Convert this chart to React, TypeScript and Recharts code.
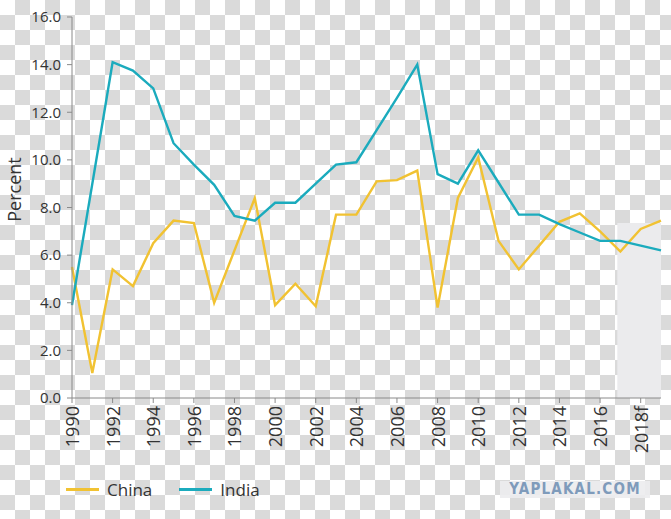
import { LineChart, Line, XAxis, YAxis, ReferenceArea } from "recharts";

const YEARS = [
  1990, 1991, 1992, 1993, 1994, 1995, 1996, 1997, 1998, 1999,
  2000, 2001, 2002, 2003, 2004, 2005, 2006, 2007, 2008, 2009,
  2010, 2011, 2012, 2013, 2014, 2015, 2016, 2017, 2018, 2019,
];

const CHINA = [
  5.5, 1.05, 5.4, 4.7, 6.5, 7.45, 7.35, 4.0, 6.2, 8.4,
  3.9, 4.8, 3.85, 7.7, 7.7, 9.1, 9.15, 9.55, 3.8, 8.4,
  10.1, 6.6, 5.4, 6.4, 7.4, 7.75, 7.0, 6.15, 7.1, 7.45,
];

const INDIA = [
  3.9, 9.0, 14.1, 13.75, 13.0, 10.7, 9.8, 8.95, 7.65, 7.45,
  8.2, 8.2, 9.0, 9.8, 9.9, 11.25, 12.6, 14.0, 9.4, 9.0,
  10.4, 9.05, 7.7, 7.7, 7.3, 6.95, 6.6, 6.6, 6.4, 6.2,
];

const X_TICKS = [
  1990, 1992, 1994, 1996, 1998, 2000, 2002, 2004, 2006, 2008,
  2010, 2012, 2014, 2016, 2018,
];
const FORECAST_TICK = 2018;
const Y_TICKS = [0, 2, 4, 6, 8, 10, 12, 14, 16];

// shaded forecast block
const SHADE_FROM = 2016.85;
const SHADE_TO = 2019;
const SHADE_TOP = 7.35;

const SERIES = [
  { key: "china", name: "China" },
  { key: "india", name: "India" },
];

const COLORS: Record<string, string> = {
  china: "#f1c232",
  india: "#1babbd",
};

const data = YEARS.map((year, i) => ({
  year,
  china: CHINA[i],
  india: INDIA[i],
}));

const FONT = "'Open Sans', 'Noto Sans', sans-serif";
const TEXT = "#333333";
const AXIS = "#8a8a8a";

function XTick({ x, y, payload }: any) {
  const label =
    payload.value === FORECAST_TICK ? `${payload.value}f` : String(payload.value);
  return (
    <text
      x={x}
      y={y}
      transform={`rotate(-90 ${x} ${y})`}
      textAnchor="end"
      dominantBaseline="central"
      fontFamily={FONT}
      fontSize={18}
      fill={TEXT}
    >
      {label}
    </text>
  );
}

function PercentLabel({ viewBox, value }: any) {
  const cx = viewBox.x + 14;
  const cy = viewBox.y + viewBox.height / 2 - 18;
  return (
    <text
      x={cx}
      y={cy}
      transform={`rotate(-90 ${cx} ${cy})`}
      textAnchor="middle"
      dominantBaseline="central"
      fontFamily={FONT}
      fontSize={18}
      fill={TEXT}
    >
      {value}
    </text>
  );
}

export default function App() {
  return (
    <div
      style={{
        position: "absolute",
        left: 0,
        top: 0,
        width: 671,
        height: 519,
        overflow: "hidden",
        background:
          "repeating-conic-gradient(#dadada 0% 25%, #ffffff 0% 50%) 0 0 / 30px 30px",
        fontFamily: FONT,
      }}
    >
      <LineChart
        width={671}
        height={519}
        data={data}
        margin={{ top: 17, right: 10, bottom: 71, left: 0 }}
      >
        <ReferenceArea
          x1={SHADE_FROM}
          x2={SHADE_TO}
          y1={0}
          y2={SHADE_TOP}
          fill="#ebebed"
          fillOpacity={1}
          stroke="none"
          ifOverflow="hidden"
        />
        <XAxis
          type="number"
          dataKey="year"
          domain={[1990, 2019]}
          ticks={X_TICKS}
          interval={0}
          height={50}
          tickSize={5}
          tickMargin={3}
          tick={<XTick />}
          axisLine={{ stroke: AXIS }}
          tickLine={{ stroke: AXIS }}
        />
        <YAxis
          type="number"
          domain={[0, 16]}
          ticks={Y_TICKS}
          interval={0}
          width={72}
          tickSize={5}
          tickMargin={6}
          tickFormatter={(v: number) => v.toFixed(1)}
          tick={{ fontSize: 15, fill: TEXT, fontFamily: FONT }}
          axisLine={{ stroke: AXIS }}
          tickLine={{ stroke: AXIS }}
          label={{ value: "Percent", content: PercentLabel }}
        />
        {SERIES.map((s) => (
          <Line
            key={s.key}
            type="linear"
            dataKey={s.key}
            name={s.name}
            stroke={COLORS[s.key]}
            strokeWidth={2.4}
            dot={false}
            activeDot={false}
            isAnimationActive={false}
          />
        ))}
      </LineChart>

      <div
        style={{
          position: "absolute",
          left: 66,
          top: 478,
          display: "flex",
          alignItems: "center",
          height: 22,
        }}
      >
        {SERIES.map((s) => (
          <span
            key={s.key}
            style={{
              display: "flex",
              alignItems: "center",
              marginRight: 27,
              fontSize: 17,
              color: TEXT,
            }}
          >
            <span
              style={{
                display: "inline-block",
                width: 33,
                height: 3,
                background: COLORS[s.key],
                marginRight: 8,
              }}
            />
            {s.name}
          </span>
        ))}
      </div>

      <div
        style={{
          position: "absolute",
          left: 500,
          top: 481,
          width: 150,
          height: 17,
          background: "rgba(236,236,238,0.9)",
          color: "#7f9bbb",
          fontFamily: "'DejaVu Sans Condensed', 'DejaVu Sans', sans-serif",
          fontWeight: 700,
          fontSize: 15,
          letterSpacing: 1.2,
          lineHeight: "17px",
          textAlign: "center",
        }}
      >
        YAPLAKAL.COM
      </div>
    </div>
  );
}
